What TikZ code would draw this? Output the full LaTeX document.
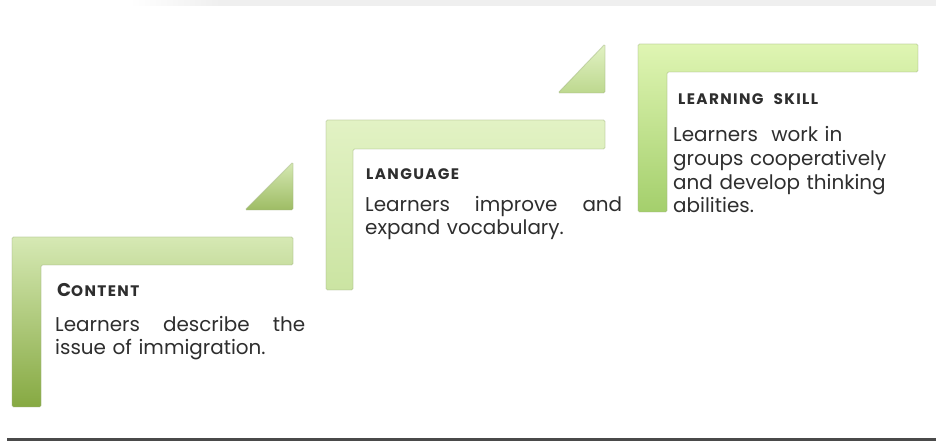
\documentclass[tikz,border=0pt]{standalone}
\usepackage{fontspec}
\setmainfont{Poppins}
\usetikzlibrary{shadows}
\definecolor{inkgray}{HTML}{2E2E2E}
\definecolor{bandgray}{HTML}{EFEFEF}
\definecolor{rulegray}{HTML}{4A4A4A}
\definecolor{edgegreen}{HTML}{9FB27E}
% step colours, top and bottom of each gradient
\definecolor{oneTop}{HTML}{D6E9B4}
\definecolor{oneBot}{HTML}{86A942}
\definecolor{twoTop}{HTML}{E2F2C4}
\definecolor{twoBot}{HTML}{CBE4A2}
\definecolor{threeTop}{HTML}{DFF5B3}
\definecolor{threeBot}{HTML}{A4CF6C}
\begin{document}
\begin{tikzpicture}[x=1bp,y=-1bp,
  stepshape/.style={rounded corners=1.5bp, draw=edgegreen, draw opacity=0.45, line width=0.9bp},
  heading/.style={anchor=base west, inner sep=0pt, text=inkgray,
    font=\fontsize{15.3}{17}\selectfont\bfseries\addfontfeature{LetterSpace=9}},
  body/.style={anchor=base west, inner sep=0pt, text=inkgray, align=left, font=\fontsize{20}{23}\selectfont}]
\useasboundingbox (0,0) rectangle (936,441);
\fill[white] (0,0) rectangle (936,441);

% thin band along the top edge and rule along the bottom
\fill[bandgray] (220,0) rectangle (936,6);
\shade[left color=white, right color=bandgray] (130,0) rectangle (220,6);
\fill[rulegray] (7,438) rectangle (936,441);

% step 1: content
\path[stepshape, top color=oneTop, bottom color=oneBot]
  (12,237) -- (293,237) -- (293,265) -- (41,265) -- (41,407) -- (12,407) -- cycle;
% connecting wedge 1
\path[stepshape, top color=oneTop, bottom color=oneBot!70!oneTop]
  (245,210) -- (293,210) -- (293,162) -- cycle;

% step 2: language
\path[stepshape, top color=twoTop, bottom color=twoBot]
  (326,120) -- (605,120) -- (605,149) -- (353,149) -- (353,290) -- (326,290) -- cycle;
% connecting wedge 2
\path[stepshape, top color=twoTop, bottom color=twoBot!80!oneBot]
  (558,93) -- (605,93) -- (605,44) -- cycle;

% step 3: learning skill
\path[stepshape, top color=threeTop, bottom color=threeBot]
  (638,44) -- (918,44) -- (918,72) -- (667,72) -- (667,212) -- (638,212) -- cycle;

% texts
\node[heading] (h1) at (57,297) {{\fontsize{18.5}{17}\selectfont C}ONTENT};
\node[body, text width=250bp] (b1) at (55,332)
  {Learners\hfill describe\hfill the\\issue of immigration.};

\node[heading] (h2) at (366,180) {LANGUAGE};
\node[body, text width=257bp] (b2) at (365,212)
  {Learners\hfill improve\hfill and\\expand vocabulary.};

\node[heading] (h3) at (678,105) {LEARNING\hspace{10bp}SKILL};
\node[body, text width=250bp, font=\fontsize{20}{23.7}\selectfont] (b3) at (673,142)
  {Learners\ \ work in\\groups cooperatively\\and develop thinking\\abilities.};
\end{tikzpicture}
\end{document}
